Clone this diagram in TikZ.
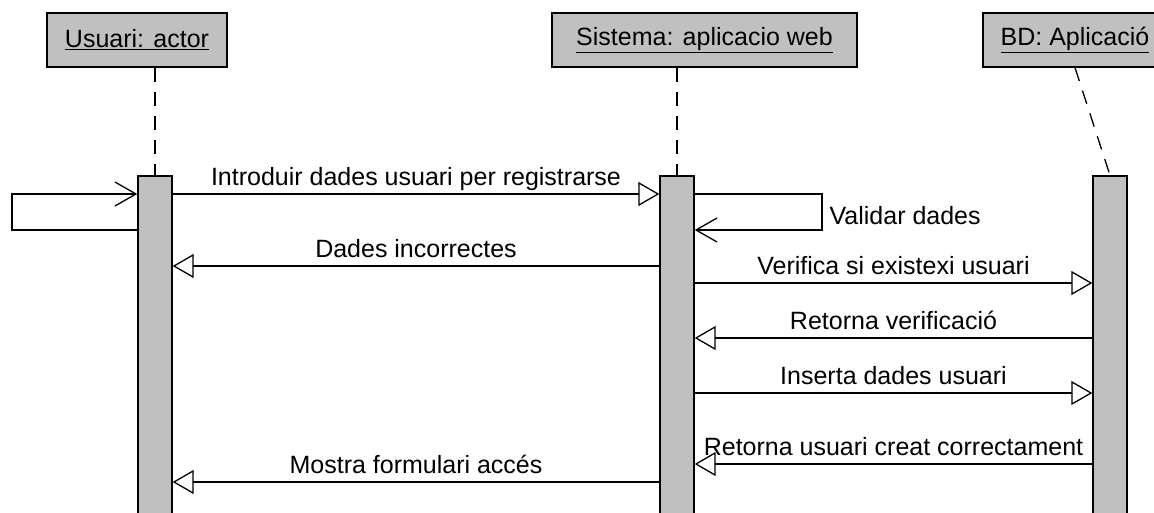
\documentclass[tikz,border=0pt]{standalone}
\usepackage{fontspec}
\setmainfont{Liberation Sans}
\usetikzlibrary{arrows.meta}
\definecolor{umlgray}{RGB}{192,192,192}
\tikzset{
  txt/.style={font=\fontsize{25}{30}\selectfont, inner sep=0pt},
  head/.style={txt, draw, fill=umlgray, line width=1.4pt, minimum height=54pt},
  actbar/.style={draw, fill=umlgray, line width=1.4pt, minimum width=34pt, minimum height=344pt, inner sep=0pt},
  lifeline/.style={line width=1.3pt, dash pattern=on 14pt off 10pt},
  msg/.style={line width=1.3pt, -{Triangle[open, length=21pt, width=24pt, line width=1.3pt]}},
  selfmsg/.style={line width=1.3pt, -{Straight Barb[length=21pt, width=24pt, line width=1.3pt]}},
  lbl/.style={txt, anchor=base, yshift=8.5pt}
}
\begin{document}
\begin{tikzpicture}[x=1pt, y=-1pt]
  \useasboundingbox (0,0) rectangle (1154,513);
  \clip (0,0) rectangle (1154,513);
  \draw
    (137,40) node[head, minimum width=180pt] (usuari) {\underline{Usuari: actor}}
    (704.5,40) node[head, minimum width=305pt] (sistema) {\underline{Sistema: aplicacio web}}
    (1075,40) node[head, minimum width=184pt] (bd) {\underline{BD: Aplicació}};
  \draw
    (155,348) node[actbar] (ubar) {}
    (677,348) node[actbar] (sbar) {}
    (1110,348) node[actbar] (bbar) {};
  \begin{scope}
    \draw[lifeline] (usuari.south -| ubar.north) -- (ubar.north);
    \draw[lifeline] (sistema.south -| sbar.north) -- (sbar.north);
    \draw[lifeline] (bd.south) -- (bbar.north);
  \end{scope}
  \begin{scope}
    \draw[selfmsg] (ubar.west |- 0,230) -| (12,194) -- (ubar.west |- 0,194);
    \draw[msg] (ubar.east |- 0,194) -- (sbar.west |- 0,194) node[lbl, midway] {Introduir dades usuari per registrarse};
    \draw[selfmsg] (sbar.east |- 0,194) -| (822,230) node[txt, anchor=base west, xshift=7pt, yshift=5pt] {Validar dades} -- (sbar.east |- 0,230);
    \draw[msg] (sbar.west |- 0,266) -- (ubar.east |- 0,266) node[lbl, midway] {Dades incorrectes};
    \draw[msg] (sbar.east |- 0,283) -- (bbar.west |- 0,283) node[lbl, midway] {Verifica si existexi usuari};
    \draw[msg] (bbar.west |- 0,338) -- (sbar.east |- 0,338) node[lbl, midway] {Retorna verificació};
    \draw[msg] (sbar.east |- 0,393) -- (bbar.west |- 0,393) node[lbl, midway] {Inserta dades usuari};
    \draw[msg] (bbar.west |- 0,464) -- (sbar.east |- 0,464) node[lbl, midway] {Retorna usuari creat correctament};
    \draw[msg] (sbar.west |- 0,482) -- (ubar.east |- 0,482) node[lbl, midway] {Mostra formulari accés};
  \end{scope}
\end{tikzpicture}
\end{document}
